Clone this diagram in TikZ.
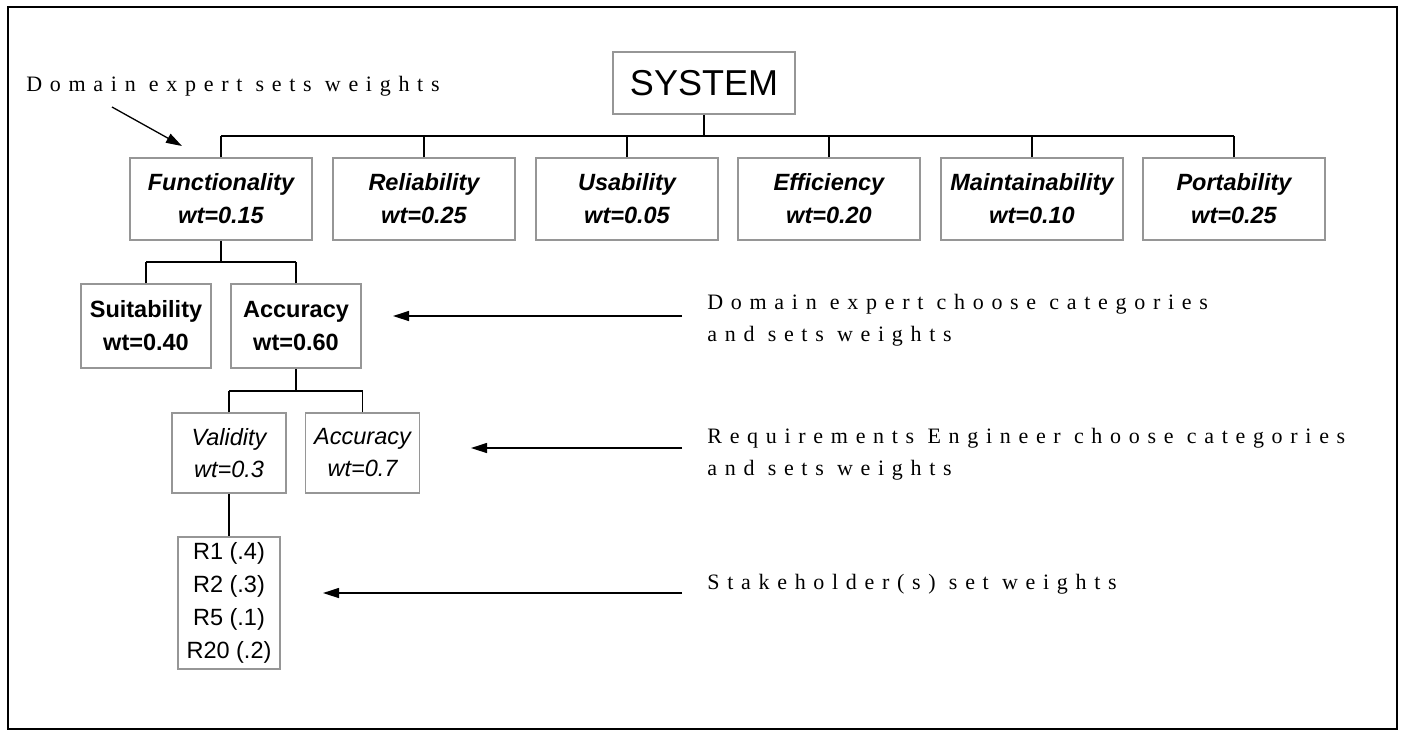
\documentclass[tikz,border=0pt]{standalone}
\usepackage{fontspec}
\setmainfont{Liberation Sans}
\setsansfont{Liberation Sans}
\newfontfamily\lblfont[LetterSpace=35]{Liberation Serif}
\usetikzlibrary{arrows.meta}
\definecolor{boxgray}{RGB}{150,150,150}
\begin{document}
\begin{tikzpicture}[x=0.5pt,y=-0.5pt,
  box/.style={draw=boxgray,line width=0.75pt,rectangle,inner sep=0pt,align=center,
    font=\fontsize{11.75}{16.5}\selectfont},
  topbox/.style={box,minimum width=91pt,minimum height=41pt,
    font=\fontsize{11.75}{16.5}\selectfont\bfseries\itshape},
  midbox/.style={box,minimum width=65pt,minimum height=42pt,
    font=\fontsize{11.75}{16.5}\selectfont\bfseries},
  lowbox/.style={box,minimum width=57pt,minimum height=40pt,
    font=\fontsize{11.75}{16}\selectfont\itshape},
  conn/.style={draw=black,line width=0.6pt},
  arr/.style={draw=black,line width=0.65pt,-{Triangle[length=8pt,width=5pt]}},
  lbl/.style={inner sep=0pt,anchor=base west,align=left,
    font=\fontsize{11}{16}\lblfont}]
\useasboundingbox (0,0) rectangle (1401,736);
\draw[line width=1.25pt] (8,7) rectangle (1397,729);

% nodes
\node[box,minimum width=91pt,minimum height=31pt,font=\fontsize{18}{20}\selectfont] (sys) at (704,83) {SYSTEM};
\node[topbox] (func) at (221,199) {Functionality\\wt=0.15};
\node[topbox] (rel) at (424,199) {Reliability\\wt=0.25};
\node[topbox] (usa) at (627,199) {Usability\\wt=0.05};
\node[topbox] (eff) at (829,199) {Efficiency\\wt=0.20};
\node[topbox] (mnt) at (1032,199) {Maintainability\\wt=0.10};
\node[topbox] (prt) at (1234,199) {Portability\\wt=0.25};

\node[midbox] (suit) at (146,326) {Suitability\\wt=0.40};
\node[midbox] (acc) at (296,326) {Accuracy\\wt=0.60};

\node[lowbox] (val) at (229,453) {Validity\\wt=0.3};
\node[lowbox] (acc2) at (362.5,453) {Accuracy\\wt=0.7};

\node[box,minimum width=51pt,minimum height=66pt,font=\fontsize{11.75}{16.4}\selectfont] (req) at (229,603) {R1 (.4)\\R2 (.3)\\R5 (.1)\\R20 (.2)};

% tree connectors
\coordinate (b1) at (0,136);
\coordinate (b2) at (0,262);
\coordinate (b3) at (0,391);
\draw[conn] (sys.south) -- (sys.south |- b1);
\draw[conn] (func.north |- b1) -- (prt.north |- b1);
\foreach \n in {func,rel,usa,eff,mnt,prt} \draw[conn] (\n.north) -- (\n.north |- b1);
\draw[conn] (func.south) -- (func.south |- b2);
\draw[conn] (suit.north |- b2) -- (acc.north |- b2);
\draw[conn] (suit.north) -- (suit.north |- b2);
\draw[conn] (acc.north) -- (acc.north |- b2);
\draw[conn] (acc.south) -- (acc.south |- b3);
\draw[conn] (val.north |- b3) -- (acc2.north |- b3);
\draw[conn] (val.north) -- (val.north |- b3);
\draw[conn] (acc2.north) -- (acc2.north |- b3);
\draw[conn] (val.south) -- (req.north);

% labels (base = baseline of last line)
\node[lbl] (l0) at (26,91) {Domain expert sets weights};
\node[lbl] (l1) at (707,341) {Domain expert choose categories\\and sets weights};
\node[lbl] (l2) at (707,475) {Requirements Engineer choose categories\\and sets weights};
\node[lbl] (l3) at (707,589) {Stakeholder(s) set weights};

% arrows
\coordinate (a0s) at (112,107);
\coordinate (a0t) at (182,146);
\coordinate (a1s) at (682,316);
\coordinate (a1t) at (393,316);
\coordinate (a2s) at (682,448);
\coordinate (a2t) at (471,448);
\coordinate (a3s) at (682,593);
\coordinate (a3t) at (323,593);
\draw[arr] (a0s) -- (a0t);
\draw[arr] (a1s) -- (a1t);
\draw[arr] (a2s) -- (a2t);
\draw[arr] (a3s) -- (a3t);
\end{tikzpicture}
\end{document}
